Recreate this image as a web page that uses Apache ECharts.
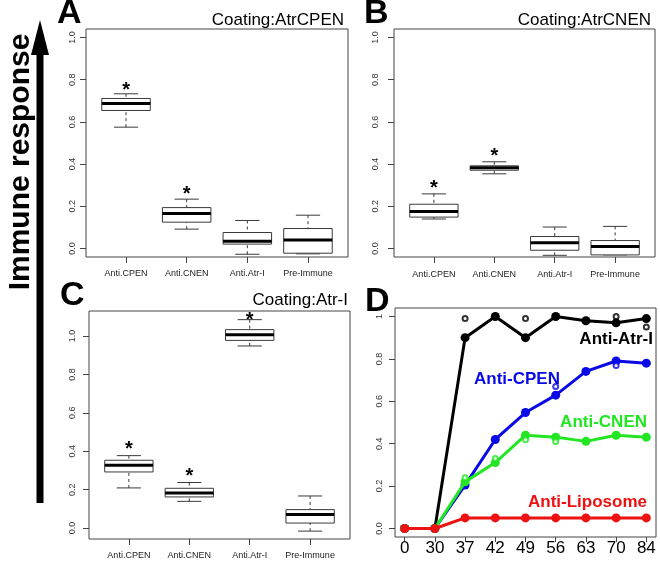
<!DOCTYPE html>
<html><head><meta charset="utf-8">
<script src="https://cdn.jsdelivr.net/npm/echarts@6/dist/echarts.min.js"></script>
<style>html,body{margin:0;padding:0;background:#fff}#c{width:660px;height:562px}</style>
</head><body><div id="c"></div><script>
// ---------- data ----------
const boxCategories = ['Anti.CPEN', 'Anti.CNEN', 'Anti.Atr-I', 'Pre-Immune'];
const boxTickValues = [1, 2, 3, 4];
const yTicks = [0, 0.2, 0.4, 0.6, 0.8, 1.0];
// each box: [lower whisker, Q1, median, Q3, upper whisker]
const boxA = [[0.575, 0.654, 0.687, 0.711, 0.733], [0.092, 0.125, 0.166, 0.194, 0.234], [-0.027, 0.021, 0.035, 0.076, 0.133], [-0.025, -0.022, 0.041, 0.095, 0.158]];
const starsA = [0.768, 0.275, null, null];
const boxB = [[0.14, 0.149, 0.176, 0.21, 0.259], [0.354, 0.371, 0.383, 0.392, 0.411], [-0.032, -0.008, 0.027, 0.057, 0.102], [-0.03, -0.03, 0.01, 0.038, 0.105]];
const starsB = [0.303, 0.457, null, null];
const boxC = [[0.209, 0.292, 0.327, 0.353, 0.377], [0.139, 0.162, 0.183, 0.207, 0.237], [0.948, 0.977, 1.007, 1.033, 1.085], [-0.016, 0.026, 0.071, 0.096, 0.167]];
const starsC = [0.431, 0.29, 1.104, null];
const panelTitles = ['Coating:AtrCPEN', 'Coating:AtrCNEN', 'Coating:Atr-I'];
const panelLetters = ['A', 'B', 'C', 'D'];
const days = ['0', '30', '37', '42', '49', '56', '63', '70', '84'];
const dayIndex = [1, 2, 3, 4, 5, 6, 7, 8, 9];
const antiAtrI = [0, 0, 0.90, 1.0, 0.90, 1.0, 0.98, 0.97, 0.99];
const antiCPEN = [0, 0, 0.205, 0.42, 0.547, 0.629, 0.741, 0.79, 0.78];
const antiCNEN = [0, 0, 0.22, 0.311, 0.44, 0.431, 0.411, 0.44, 0.431];
const antiLiposome = [0, 0, 0.05, 0.05, 0.05, 0.05, 0.05, 0.05, 0.05];
// individual replicate readings (open circles): [day position, value]
const atrIReps = [[3, 0.99], [5, 0.99], [8, 1.0], [9, 0.95]];
const cpenReps = [[6, 0.67], [8, 0.769]];
const cnenReps = [[3, 0.24], [4, 0.33], [5, 0.419], [6, 0.41]];
const lineNames = ['Anti-Atr-I', 'Anti-CPEN', 'Anti-CNEN', 'Anti-Liposome'];
const yAxisLabel = 'Immune response';

// ---------- helpers ----------
const FONT = '"Liberation Sans", Arial, sans-serif';
const COL = { black: '#000000', blue: '#0a0ae6', green: '#22e622', red: '#ee1111' };

function makeBoxRender(stars) {
  return function (params, api) {
    const x = api.value(0);
    const lo = api.value(1), q1 = api.value(2), med = api.value(3), q3 = api.value(4), hi = api.value(5);
    const unit = api.size([1, 0])[0];
    const half = unit * 0.4, cap = unit * 0.2;
    const cx = api.coord([x, med])[0];
    const Y = v => api.coord([x, v])[1];
    const stroke = '#3a3a3a';
    const ch = [
      { type: 'line', shape: { x1: cx, y1: Y(hi), x2: cx, y2: Y(q3) }, style: { stroke, lineWidth: 1, lineDash: [3, 3] } },
      { type: 'line', shape: { x1: cx, y1: Y(lo), x2: cx, y2: Y(q1) }, style: { stroke, lineWidth: 1, lineDash: [3, 3] } },
      { type: 'line', shape: { x1: cx - cap, y1: Y(hi), x2: cx + cap, y2: Y(hi) }, style: { stroke, lineWidth: 1 } },
      { type: 'line', shape: { x1: cx - cap, y1: Y(lo), x2: cx + cap, y2: Y(lo) }, style: { stroke, lineWidth: 1 } },
      { type: 'rect', shape: { x: cx - half, y: Y(q3), width: 2 * half, height: Y(q1) - Y(q3) }, style: { fill: '#fff', stroke, lineWidth: 1 } },
      { type: 'line', shape: { x1: cx - half, y1: Y(med), x2: cx + half, y2: Y(med) }, style: { stroke: '#000', lineWidth: 3 } }
    ];
    const s = stars[params.dataIndex];
    if (s !== null && s !== undefined) {
      ch.push({ type: 'text', x: cx, y: Y(s) + 4, style: { text: '*', font: 'bold 20px ' + FONT, fill: '#000', align: 'center', verticalAlign: 'middle' } });
    }
    return { type: 'group', children: ch };
  };
}

const grids = [
  { left: 86, top: 29, width: 262, height: 228 },
  { left: 394, top: 29, width: 261, height: 228 },
  { left: 89, top: 311, width: 261, height: 228 },
  { left: 395, top: 308, width: 261, height: 229 }
].map(g => Object.assign(g, { show: true, borderColor: '#444', borderWidth: 1, backgroundColor: 'transparent' }));

function boxX(gi, margin) {
  return {
    type: 'value', gridIndex: gi, min: 0.34, max: 4.66,
    axisLine: { show: false, onZero: false }, splitLine: { show: false },
    axisTick: { show: true, customValues: boxTickValues, length: 6, lineStyle: { color: '#444' } },
    axisLabel: { customValues: boxTickValues, formatter: v => boxCategories[Math.round(v) - 1], fontSize: 9, color: '#222', margin, fontFamily: FONT }
  };
}
function boxY(gi, min, max, margin, fmt) {
  return {
    type: 'value', gridIndex: gi, min, max,
    axisLine: { show: false, onZero: false }, splitLine: { show: false },
    axisTick: { show: true, customValues: yTicks, length: 6, lineStyle: { color: '#444' } },
    axisLabel: { customValues: yTicks, rotate: 90, formatter: fmt || (v => v.toFixed(1)), fontSize: 9, color: '#333', margin, fontFamily: FONT }
  };
}

const xAxes = [boxX(0, 12), boxX(1, 13), boxX(2, 12), {
  type: 'value', gridIndex: 3, min: 0.68, max: 9.32,
  axisLine: { show: false, onZero: false }, splitLine: { show: false },
  axisTick: { show: true, customValues: dayIndex, length: 5, lineStyle: { color: '#444' } },
  axisLabel: { customValues: dayIndex, formatter: v => days[Math.round(v) - 1], fontSize: 17, color: '#000', margin: 3, fontFamily: FONT }
}];
const yAxes = [boxY(0, -0.04, 1.04, 9), boxY(1, -0.04, 1.04, 14), boxY(2, -0.057, 1.13, 12),
  boxY(3, -0.04, 1.04, 11, v => (v === 1 ? '1' : v.toFixed(1)))];

function boxSeries(gi, boxes, stars) {
  return {
    type: 'custom', xAxisIndex: gi, yAxisIndex: gi, renderItem: makeBoxRender(stars),
    data: boxes.map((b, i) => [boxTickValues[i]].concat(b)), silent: true, animation: false
  };
}
function lineSeries(vals, color, z) {
  return {
    type: 'line', xAxisIndex: 3, yAxisIndex: 3, data: vals.map((v, i) => [dayIndex[i], v]),
    symbol: 'circle', symbolSize: 9, showSymbol: true, lineStyle: { width: 3, color }, itemStyle: { color }, z, animation: false, silent: true
  };
}
function repSeries(pts, color, z) {
  return {
    type: 'scatter', xAxisIndex: 3, yAxisIndex: 3, data: pts, symbol: 'emptyCircle', symbolSize: 5,
    itemStyle: { color, borderColor: color, borderWidth: 1 }, z, animation: false, silent: true
  };
}

const letterPos = [[57, 14], [364, 14], [60, 296], [365, 302]];
const titlePos = [[344, 20], [651, 20], [348, 300]];
const graphics = [];
panelLetters.forEach((t, i) => graphics.push({ type: 'text', x: letterPos[i][0], y: letterPos[i][1], style: { text: t, font: 'bold 34px ' + FONT, fill: '#000', textAlign: 'left', textVerticalAlign: 'middle', align: 'left', verticalAlign: 'middle' } }));
panelTitles.forEach((t, i) => graphics.push({ type: 'text', x: titlePos[i][0], y: titlePos[i][1], style: { text: t, font: '17px ' + FONT, fill: '#000', textAlign: 'right', textVerticalAlign: 'middle', align: 'right', verticalAlign: 'middle' } }));
const lineLabelPos = [[653, 339, 'right', COL.black], [474, 379, 'left', COL.blue], [647, 422, 'right', COL.green], [647, 502, 'right', COL.red]];
lineNames.forEach((t, i) => graphics.push({ type: 'text', x: lineLabelPos[i][0], y: lineLabelPos[i][1], style: { text: t, font: 'bold 17px ' + FONT, fill: lineLabelPos[i][3], textAlign: lineLabelPos[i][2], textVerticalAlign: 'middle', align: lineLabelPos[i][2], verticalAlign: 'middle' } }));
// big arrow with label
graphics.push({ type: 'line', shape: { x1: 40, y1: 503, x2: 40, y2: 50 }, style: { stroke: '#000', lineWidth: 7 } });
graphics.push({ type: 'polygon', shape: { points: [[31, 55], [49, 55], [40, 20]] }, style: { fill: '#000' } });
graphics.push({ type: 'text', x: 21, y: 162, rotation: Math.PI / 2, style: { text: yAxisLabel, font: 'bold 30px ' + FONT, fill: '#000', textAlign: 'center', textVerticalAlign: 'middle', align: 'center', verticalAlign: 'middle' } });

const chart = echarts.init(document.getElementById('c'), null, { renderer: 'canvas' });
chart.setOption({
  animation: false,
  backgroundColor: '#fff',
  grid: grids,
  xAxis: xAxes,
  yAxis: yAxes,
  graphic: graphics,
  series: [
    boxSeries(0, boxA, starsA), boxSeries(1, boxB, starsB), boxSeries(2, boxC, starsC),
    lineSeries(antiAtrI, COL.black, 2), lineSeries(antiCPEN, COL.blue, 3), lineSeries(antiCNEN, COL.green, 4), lineSeries(antiLiposome, COL.red, 5),
    repSeries(atrIReps, COL.black, 6), repSeries(cpenReps, COL.blue, 6), repSeries(cnenReps, COL.green, 6)
  ]
});
</script></body></html>
